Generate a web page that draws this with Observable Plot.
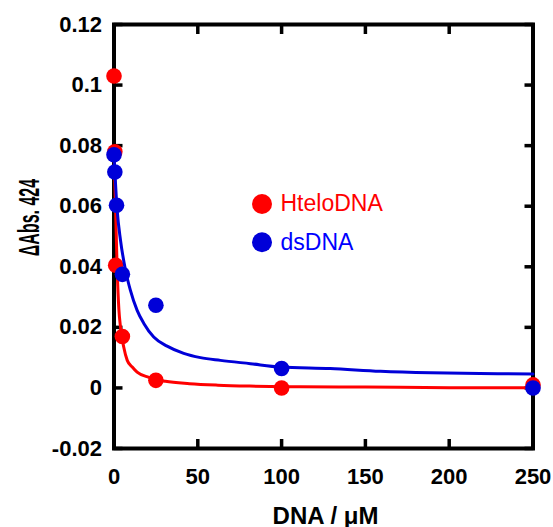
<!DOCTYPE html>
<html><head><meta charset="utf-8">
<script src="https://cdn.jsdelivr.net/npm/d3@7"></script>
<script src="https://cdn.jsdelivr.net/npm/@observablehq/plot@0.6"></script>
<style>body{margin:0;background:#fff}</style>
</head><body><div id="chart"></div>
<script>
// Measured points
const hteloConc = [0, 0.5, 1, 5, 25, 100, 250];
const hteloAbs  = [0.103, 0.078, 0.0405, 0.017, 0.0025, 0.0, 0.001];
const dsConc = [0, 0.5, 1.5, 5, 25, 100, 250];
const dsAbs  = [0.077, 0.0713, 0.0603, 0.0375, 0.0273, 0.0064, 0.0];

// Fitted curves
const hteloFitConc = [0, 0.9, 1.9, 2.9, 3.9, 5.8, 7.9, 10.9, 13.8, 20.8, 30.7, 45, 62, 81, 111, 150, 200, 250];
const hteloFitAbs  = [0.079, 0.060, 0.039, 0.026, 0.020, 0.0135, 0.0091, 0.0069, 0.0052, 0.0035, 0.0022, 0.0014, 0.0009, 0.0006, 0.0004, 0.0003, 0.0001, 0.0001];
const dsFitConc = [0, 1.9, 3.9, 6.9, 9.8, 13.8, 17.8, 23.7, 31.7, 41.6, 51.6, 63.5, 81.4, 99.3, 129, 159, 189, 229, 250];
const dsFitAbs  = [0.077, 0.0586, 0.0487, 0.0388, 0.0322, 0.0256, 0.0213, 0.0168, 0.0138, 0.0114, 0.0100, 0.0091, 0.0080, 0.0069, 0.0064, 0.0055, 0.0050, 0.0047, 0.0046];

// Ticks and labels
const xTicks = [0, 50, 100, 150, 200, 250];
const xTickLabels = ["0", "50", "100", "150", "200", "250"];
const yTicks = [-0.02, 0, 0.02, 0.04, 0.06, 0.08, 0.1, 0.12];
const yTickLabels = ["-0.02", "0", "0.02", "0.04", "0.06", "0.08", "0.1", "0.12"];
const xTitle = "DNA / \u03bcM";
const yTitle = "\u0394Abs. 424";
const seriesNames = ["HteloDNA", "dsDNA"];

const RED = "#ff0000";
const BLUE_MARK = "#0000d8";
const BLUE_TEXT = "#0000ff";

const pts = (xs, ys) => xs.map((x, i) => ({x, y: ys[i]}));
const xfmt = d => xTickLabels[xTicks.indexOf(d)];
const yfmt = d => yTickLabels[yTicks.indexOf(d)];
const TS = 9, TW = 3.5;

const chart = Plot.plot({
  width: 553, height: 527,
  marginLeft: 113.5, marginRight: 20.5, marginTop: 24, marginBottom: 79,
  style: {fontFamily: "Arial, 'Liberation Sans', sans-serif", background: "#fff", color: "#000"},
  x: {domain: [0, 250]},
  y: {domain: [-0.02, 0.12]},
  marks: [
    Plot.axisX(xTicks, {anchor: "bottom", tickSize: 0, tickPadding: 20, fontSize: 22, fontWeight: "bold", tickFormat: xfmt, label: null}),
    Plot.axisY(yTicks, {anchor: "left", tickSize: 0, tickPadding: 12, fontSize: 22, fontWeight: "bold", tickFormat: yfmt, label: null}),
    Plot.axisX(xTicks, {anchor: "bottom", tickSize: TS, dy: -TS, strokeWidth: TW, tickFormat: () => "", label: null}),
    Plot.axisX(xTicks, {anchor: "top", tickSize: TS, dy: TS, strokeWidth: TW, tickFormat: () => "", label: null}),
    Plot.axisY(yTicks, {anchor: "left", tickSize: TS, dx: TS, strokeWidth: TW, tickFormat: () => "", label: null}),
    Plot.axisY(yTicks, {anchor: "right", tickSize: TS, dx: -TS, strokeWidth: TW, tickFormat: () => "", label: null}),
    Plot.frame({stroke: "#000", strokeWidth: 4}),
    Plot.line(pts(hteloFitConc, hteloFitAbs), {x: "x", y: "y", stroke: RED, strokeWidth: 3, curve: "monotone-x"}),
    Plot.dot(pts(hteloConc, hteloAbs), {x: "x", y: "y", r: 7.8, fill: RED}),
    Plot.line(pts(dsFitConc, dsFitAbs), {x: "x", y: "y", stroke: BLUE_MARK, strokeWidth: 3, curve: "monotone-x"}),
    Plot.dot(pts(dsConc, dsAbs), {x: "x", y: "y", r: 7.8, fill: BLUE_MARK}),
    // legend
    Plot.dot([seriesNames[0]], {x: null, y: null, frameAnchor: "top-left", dx: 148, dy: 179.5, r: 10, fill: RED}),
    Plot.dot([seriesNames[1]], {x: null, y: null, frameAnchor: "top-left", dx: 148, dy: 217.7, r: 10, fill: BLUE_MARK}),
    Plot.text([seriesNames[0]], {x: null, y: null, text: d => d, frameAnchor: "top-left", dx: 166.5, dy: 179.5, textAnchor: "start", lineAnchor: "middle", fontSize: 23, fill: RED}),
    Plot.text([seriesNames[1]], {x: null, y: null, text: d => d, frameAnchor: "top-left", dx: 166.5, dy: 217.7, textAnchor: "start", lineAnchor: "middle", fontSize: 23, fill: BLUE_TEXT}),
    // axis titles
    Plot.text([xTitle], {x: null, y: null, text: d => d, frameAnchor: "bottom", dx: 2, dy: 75, lineAnchor: "bottom", textAnchor: "middle", fontSize: 24, fontWeight: "bold"}),
    Plot.text([yTitle], {x: null, y: null, text: d => d, frameAnchor: "left", dx: -75.5, dy: -19, rotate: -90, lineAnchor: "bottom", textAnchor: "middle", fontSize: 16, fontWeight: "bold", className: "ytitle"})
  ]
});

// stretch y title glyphs vertically (as in the reference)
chart.querySelectorAll("text").forEach(t => {
  if (t.textContent === yTitle) {
    const tr = t.getAttribute("transform") || "";
    t.setAttribute("transform", tr + " scale(1,1.8)");
  }
});
document.getElementById("chart").appendChild(chart);
</script>
</body></html>
